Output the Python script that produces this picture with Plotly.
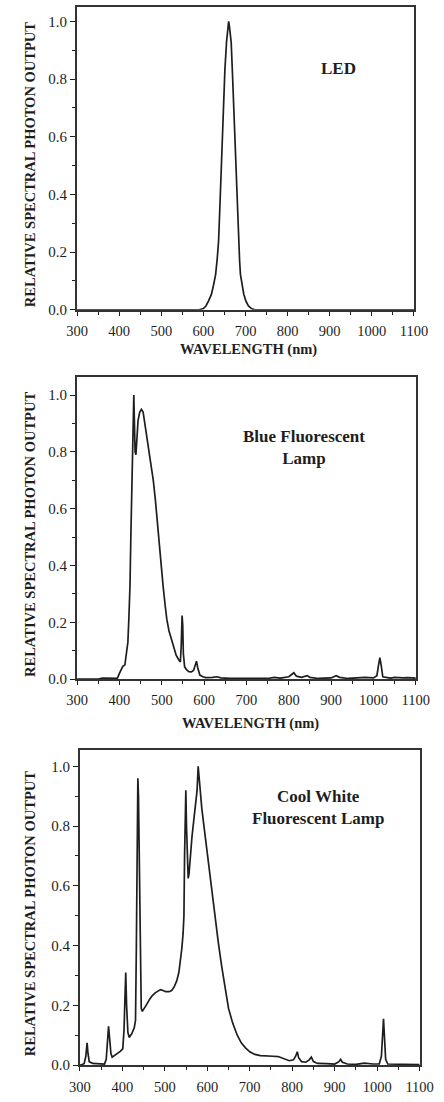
import plotly.graph_objects as go

# ---------------- data ----------------
led_wl = [300, 590, 600, 606, 612, 619, 624, 629, 633, 636, 639, 642, 645, 647, 651, 655, 658, 660,
          662, 666, 669, 672, 675, 677, 680, 683, 686, 688, 692, 696, 701, 707, 714, 722, 1100]
led_val = [0, 0, 0.004, 0.013, 0.03, 0.053, 0.085, 0.122, 0.18, 0.237, 0.35, 0.467, 0.59, 0.70, 0.83, 0.93, 0.98, 1.0,
           0.98, 0.927, 0.82, 0.70, 0.58, 0.467, 0.35, 0.237, 0.17, 0.122, 0.085, 0.053, 0.03, 0.013, 0.004, 0, 0]

blue_wl = [300, 350, 360, 380, 395, 400, 404, 408, 413, 417, 420, 422.5, 425, 427, 429, 432, 434, 435.5, 437, 439,
           441, 444, 448, 452, 456, 460, 466, 473, 480, 485, 489, 493, 497, 503, 508, 512, 517, 523, 528, 534,
           540, 544, 546, 548, 549.5, 551, 554, 559, 564, 570, 575, 579, 582, 585, 590, 597, 604, 620, 630, 640,
           660, 700, 750, 765, 780, 800, 808, 812, 818, 830, 843, 850, 870, 900, 912, 920, 940, 960, 980, 1000,
           1008, 1012, 1015, 1018, 1022, 1040, 1050, 1070, 1080, 1100]
blue_val = [0, 0, 0.003, 0.003, 0.002, 0.02, 0.035, 0.045, 0.05, 0.09, 0.13, 0.22, 0.33, 0.5, 0.68, 0.91, 1.0, 0.9, 0.8, 0.79,
            0.85, 0.91, 0.94, 0.95, 0.94, 0.90, 0.85, 0.78, 0.70, 0.63, 0.56, 0.50, 0.445, 0.33, 0.26, 0.21, 0.17, 0.14, 0.11, 0.084,
            0.068, 0.06, 0.12, 0.224, 0.19, 0.09, 0.043, 0.032, 0.026, 0.025, 0.03, 0.05, 0.063, 0.04, 0.014, 0.008, 0.005, 0.006, 0.008, 0.004,
            0.002, 0.002, 0.002, 0.006, 0.003, 0.008, 0.018, 0.022, 0.01, 0.006, 0.012, 0.006, 0.002, 0.004, 0.012, 0.006, 0.002, 0.005, 0.006, 0.004,
            0.012, 0.05, 0.075, 0.05, 0.008, 0.003, 0.006, 0.004, 0.005, 0.003]

cw_wl = [300, 310, 314, 317, 319, 322, 330, 345, 358, 362, 365, 367.5, 370, 373, 376, 385, 395, 401, 404, 406,
         408, 410, 413, 416, 422, 428, 431, 433, 435, 436.5, 438, 440, 442, 444.5, 447, 452, 458, 464, 470, 478,
         485, 490, 496, 502, 510, 516, 522, 528, 533, 537, 540, 543, 545, 546.5, 548, 549.5, 551, 553, 555, 557,
         560, 564, 569, 573, 576, 578.5, 581, 584, 587, 593, 600, 606, 612, 619, 626, 634, 641, 650, 660, 670,
         680, 690, 700, 712, 725, 740, 755, 767, 780, 793, 803, 808, 812, 815, 822, 832, 840, 845, 850, 860,
         880, 900, 910, 914, 918, 930, 950, 970, 990, 1005, 1010, 1013, 1015, 1017, 1020, 1025, 1050, 1075, 1100]
cw_val = [0.0, 0.005, 0.03, 0.075, 0.04, 0.012, 0.006, 0.004, 0.004, 0.02, 0.08, 0.13, 0.09, 0.04, 0.027, 0.035, 0.046, 0.055, 0.12, 0.22,
          0.31, 0.2, 0.11, 0.093, 0.105, 0.125, 0.15, 0.4, 0.85, 0.96, 0.9, 0.6, 0.35, 0.19, 0.18, 0.19, 0.205, 0.22, 0.232, 0.243,
          0.25, 0.253, 0.25, 0.246, 0.246, 0.25, 0.262, 0.282, 0.31, 0.35, 0.39, 0.44, 0.5, 0.7, 0.9, 0.92, 0.8, 0.66, 0.625, 0.64,
          0.7, 0.765, 0.83, 0.875, 0.92, 1.0, 0.95, 0.9, 0.86, 0.79, 0.71, 0.64, 0.56, 0.486, 0.41, 0.33, 0.265, 0.19, 0.14, 0.102,
          0.075, 0.058, 0.045, 0.036, 0.032, 0.03, 0.03, 0.029, 0.022, 0.015, 0.018, 0.03, 0.045, 0.025, 0.012, 0.01, 0.018, 0.027, 0.012, 0.006,
          0.005, 0.004, 0.012, 0.02, 0.01, 0.004, 0.003, 0.007, 0.004, 0.004, 0.03, 0.1, 0.155, 0.1, 0.02, 0.004, 0.003, 0.004, 0.002]

x_ticks = [300, 400, 500, 600, 700, 800, 900, 1000, 1100]
y_ticks = [0.0, 0.2, 0.4, 0.6, 0.8, 1.0]
y_ticklabels = ["0.0", "0.2", "0.4", "0.6", "0.8", "1.0"]

panel_labels = ["<b>LED</b>", "<b>Blue Fluorescent<br>Lamp</b>", "<b>Cool White<br>Fluorescent Lamp</b>"]
y_title = "RELATIVE SPECTRAL PHOTON OUTPUT"
x_title = "WAVELENGTH (nm)"

# ---------------- layout helpers ----------------
W, H = 444, 1102
FONT = "Liberation Serif"
INK = "#1e1e1e"


def px_x(p):
    return p / W


def px_y(p):
    return 1 - p / H


# (left px, right px, top px, bottom px, ymax)
panels = [
    (70, 427, 7, 312, 1.05),
    (70, 429, 380, 684, 1.063),
    (73, 433, 755, 1073, 1.056),
]
series = [(led_wl, led_val), (blue_wl, blue_val), (cw_wl, cw_val)]

fig = go.Figure()
layout = dict(
    width=W, height=H,
    margin=dict(l=0, r=0, t=0, b=0),
    paper_bgcolor="white", plot_bgcolor="white",
    showlegend=False,
    font=dict(family=FONT, color=INK, size=14),
)
annotations = []

for i, ((l, r, t, b, ymax), (wl, val)) in enumerate(zip(panels, series)):
    n = "" if i == 0 else str(i + 1)
    fig.add_trace(go.Scatter(x=wl, y=val, mode="lines", xaxis="x" + n, yaxis="y" + n,
                             line=dict(color=INK, width=1.7), hoverinfo="skip"))
    layout["xaxis" + n] = dict(
        domain=[px_x(l), px_x(r)], anchor="y" + n, range=[300, 1100],
        tickmode="array", tickvals=x_ticks, ticktext=[str(v) for v in x_ticks],
        ticks="outside", ticklen=4, tickwidth=1.2, tickcolor=INK,
        minor=dict(dtick=50, ticks="outside", ticklen=3, tickcolor=INK),
        showline=True, linecolor="#333", linewidth=2, mirror=True,
        showgrid=False, zeroline=False, ticklabelstandoff=3,
        tickfont=dict(family=FONT, size=14.5, color=INK),
    )
    layout["yaxis" + n] = dict(
        domain=[px_y(b), px_y(t)], anchor="x" + n, range=[0, ymax],
        tickmode="array", tickvals=y_ticks, ticktext=y_ticklabels,
        ticks="outside", ticklen=5, tickwidth=1.2, tickcolor=INK,
        minor=dict(dtick=0.1, ticks="outside", ticklen=3, tickcolor=INK),
        showline=True, linecolor="#333", linewidth=2, mirror=True,
        showgrid=False, zeroline=False,
        tickfont=dict(family=FONT, size=15, color=INK),
    )
    # y title
    annotations.append(dict(
        text="<b>" + y_title + "</b>", textangle=-90, xref="paper", yref="paper",
        x=px_x(20), y=px_y((t + b) / 2 + 6), showarrow=False,
        font=dict(family=FONT, size=14.5, color=INK), xanchor="center", yanchor="middle"))

# x titles (third one falls below the image)
annotations.append(dict(text="<b>" + x_title + "</b>", xref="paper", yref="paper",
                        x=px_x(252), y=px_y(352), showarrow=False, xanchor="center", yanchor="middle",
                        font=dict(family=FONT, size=14.5, color=INK)))
annotations.append(dict(text="<b>" + x_title + "</b>", xref="paper", yref="paper",
                        x=px_x(254), y=px_y(729), showarrow=False, xanchor="center", yanchor="middle",
                        font=dict(family=FONT, size=14.5, color=INK)))

# panel labels
label_pos = [(347, 69), (311, 451), (325, 813)]
for txt, (lx, ly) in zip(panel_labels, label_pos):
    annotations.append(dict(text=txt, xref="paper", yref="paper", x=px_x(lx), y=px_y(ly),
                            xanchor="center", yanchor="middle", align="center",
                            showarrow=False, font=dict(family=FONT, size=17, color=INK)))

layout["annotations"] = annotations
fig.update_layout(**layout)
fig.write_html("out.html")
